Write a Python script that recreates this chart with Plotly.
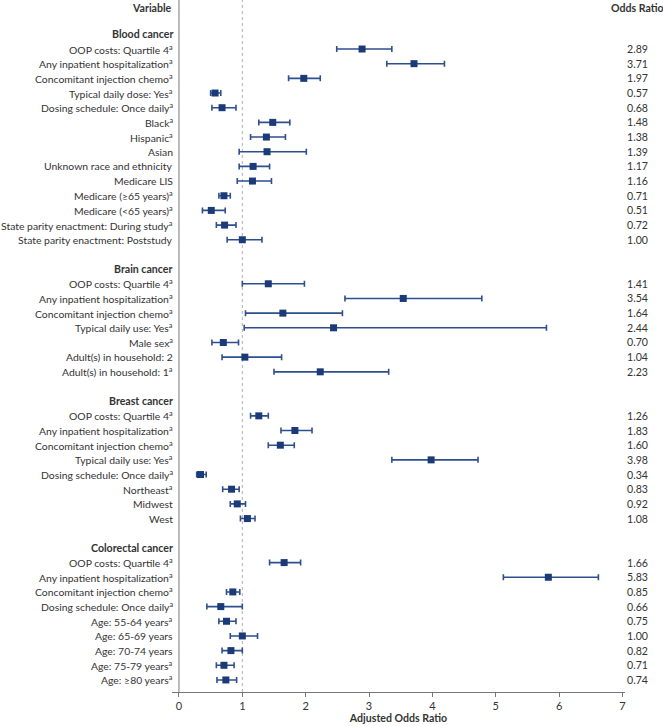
import plotly.graph_objects as go

# ---- data ----
groups = ["Blood cancer", "Brain cancer", "Breast cancer", "Colorectal cancer"]

blood_labels = ["OOP costs: Quartile 4<sup>a</sup>", "Any inpatient hospitalization<sup>a</sup>",
                "Concomitant injection chemo<sup>a</sup>", "Typical daily dose: Yes<sup>a</sup>",
                "Dosing schedule: Once daily<sup>a</sup>", "Black<sup>a</sup>", "Hispanic<sup>a</sup>",
                "Asian", "Unknown race and ethnicity", "Medicare LIS",
                "Medicare (≥65 years)<sup>a</sup>", "Medicare (<65 years)<sup>a</sup>",
                "State parity enactment: During study<sup>a</sup>", "State parity enactment: Poststudy"]
blood_or = [2.89, 3.71, 1.97, 0.57, 0.68, 1.48, 1.38, 1.39, 1.17, 1.16, 0.71, 0.51, 0.72, 1.00]
blood_lo = [2.49, 3.28, 1.73, 0.50, 0.52, 1.26, 1.13, 0.95, 0.95, 0.92, 0.63, 0.37, 0.59, 0.76]
blood_hi = [3.36, 4.19, 2.23, 0.66, 0.90, 1.75, 1.68, 2.01, 1.43, 1.46, 0.81, 0.73, 0.90, 1.31]

brain_labels = ["OOP costs: Quartile 4<sup>a</sup>", "Any inpatient hospitalization<sup>a</sup>",
                "Concomitant injection chemo<sup>a</sup>", "Typical daily use: Yes<sup>a</sup>",
                "Male sex<sup>a</sup>", "Adult(s) in household: 2", "Adult(s) in household: 1<sup>a</sup>"]
brain_or = [1.41, 3.54, 1.64, 2.44, 0.70, 1.04, 2.23]
brain_lo = [1.00, 2.62, 1.05, 1.03, 0.52, 0.68, 1.50]
brain_hi = [1.98, 4.78, 2.58, 5.80, 0.94, 1.62, 3.31]

breast_labels = ["OOP costs: Quartile 4<sup>a</sup>", "Any inpatient hospitalization<sup>a</sup>",
                 "Concomitant injection chemo<sup>a</sup>", "Typical daily use: Yes<sup>a</sup>",
                 "Dosing schedule: Once daily<sup>a</sup>", "Northeast<sup>a</sup>", "Midwest", "West"]
breast_or = [1.26, 1.83, 1.60, 3.98, 0.34, 0.83, 0.92, 1.08]
breast_lo = [1.13, 1.61, 1.41, 3.36, 0.28, 0.69, 0.81, 0.97]
breast_hi = [1.41, 2.10, 1.82, 4.72, 0.43, 0.95, 1.05, 1.20]

colo_labels = ["OOP costs: Quartile 4<sup>a</sup>", "Any inpatient hospitalization<sup>a</sup>",
               "Concomitant injection chemo<sup>a</sup>", "Dosing schedule: Once daily<sup>a</sup>",
               "Age: 55-64 years<sup>a</sup>", "Age: 65-69 years", "Age: 70-74 years",
               "Age: 75-79 years<sup>a</sup>", "Age: ≥80 years<sup>a</sup>"]
colo_or = [1.66, 5.83, 0.85, 0.66, 0.75, 1.00, 0.82, 0.71, 0.74]
colo_lo = [1.43, 5.12, 0.75, 0.44, 0.63, 0.81, 0.68, 0.59, 0.60]
colo_hi = [1.92, 6.62, 0.96, 1.00, 0.90, 1.24, 1.00, 0.87, 0.91]

x_ticks = [0, 1, 2, 3, 4, 5, 6, 7]

# ---- build rows ----
sections = [
    (groups[0], blood_labels, blood_or, blood_lo, blood_hi),
    (groups[1], brain_labels, brain_or, brain_lo, brain_hi),
    (groups[2], breast_labels, breast_or, breast_lo, breast_hi),
    (groups[3], colo_labels, colo_or, colo_lo, colo_hi),
]

TEXT = "#333333"
FONT = "Lato"
FS = 10.6
LFS = 10.4
MARK = "#1b3a78"
LINE = "#2e4f8e"

ys, xs, lo_err, hi_err = [], [], [], []
annotations = []
row = 0
annotations.append(dict(x=0, y=row, xref="x", yref="y", text="<b>Variable</b>", showarrow=False,
                        xanchor="right", xshift=-5, yanchor="top", yshift=5,
                        font=dict(size=FS, color=TEXT, family=FONT)))
annotations.append(dict(x=1.0265, y=row, xref="paper", yref="y", text="<b>Odds Ratio</b>", showarrow=False,
                        xanchor="center", yanchor="top", yshift=5,
                        font=dict(size=FS, color=TEXT, family=FONT)))
row += 1
for name, labels, ors, los, his in sections:
    row += 1
    annotations.append(dict(x=0, y=row, xref="x", yref="y", text=f"<b>{name}</b>", showarrow=False,
                            xanchor="right", xshift=-4, font=dict(size=FS, color=TEXT, family=FONT)))
    for lab, o, l, h in zip(labels, ors, los, his):
        row += 1
        ys.append(row)
        xs.append(o)
        lo_err.append(o - l)
        hi_err.append(h - o)
        annotations.append(dict(x=0, y=row, xref="x", yref="y", text=lab, showarrow=False,
                                xanchor="right", xshift=-4, font=dict(size=LFS, color=TEXT, family=FONT)))
        annotations.append(dict(x=1.0265, y=row, xref="paper", yref="y", text=f"{o:.2f}", showarrow=False,
                                xanchor="center", font=dict(size=FS, color=TEXT, family=FONT)))
    row += 1
last_row = row - 1

fig = go.Figure()
fig.add_trace(go.Scatter(
    x=xs, y=ys, mode="markers",
    marker=dict(symbol="square", size=7, color=MARK),
    error_x=dict(type="data", symmetric=False, array=hi_err, arrayminus=lo_err,
                 color=LINE, thickness=1.6, width=3),
    showlegend=False, cliponaxis=False, hoverinfo="skip",
))

shapes = [
    dict(type="line", xref="x", yref="paper", x0=1, x1=1, y0=0, y1=1,
         line=dict(color="#b0b0b0", width=1, dash="dot"), layer="below"),
    dict(type="line", xref="x", yref="paper", x0=0, x1=0, y0=0, y1=1,
         line=dict(color="#777777", width=1), layer="below"),
]

fig.update_layout(
    width=663, height=726,
    margin=dict(l=172, r=38, t=0, b=34),
    paper_bgcolor="white", plot_bgcolor="white",
    font=dict(family=FONT, color=TEXT, size=FS),
    shapes=shapes, annotations=annotations,
    xaxis=dict(range=[-0.11, 7.04], tickvals=x_ticks, showgrid=False, zeroline=False,
               showline=True, linecolor="#777777", linewidth=1,
               ticks="outside", ticklen=4, tickcolor="#777777",
               tickfont=dict(size=11, color=TEXT, family=FONT),
               title=dict(text="<b>Adjusted Odds Ratio</b>", font=dict(size=FS, color=TEXT, family=FONT),
                          standoff=2)),
    yaxis=dict(range=[last_row + 0.82, -0.34], showgrid=False, zeroline=False,
               showticklabels=False, showline=False),
)

fig.write_html("out.html", config={"displayModeBar": False},
               post_script="document.body.style.margin='0';document.body.style.overflow='hidden';")
